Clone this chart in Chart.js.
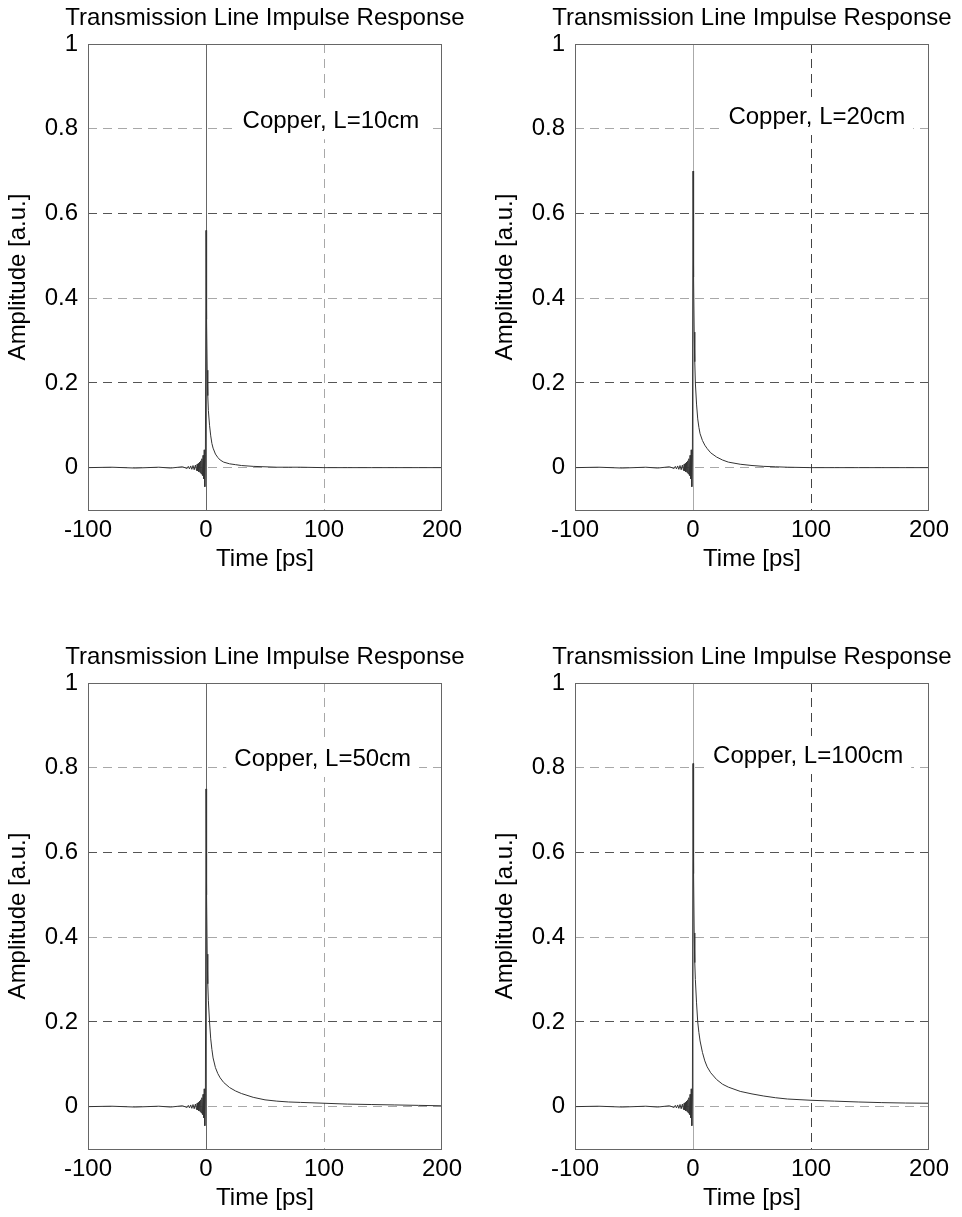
<!DOCTYPE html>
<html>
<head>
<meta charset="utf-8">
<script src="https://cdn.jsdelivr.net/npm/chart.js@4.4.0/dist/chart.umd.min.js"></script>
<style>
  html, body { margin: 0; padding: 0; background: #fff; }
  #page { position: relative; width: 962px; height: 1217px; }
  canvas { position: absolute; }
</style>
</head>
<body>
<div id="page">
  <canvas id="c10" width="475" height="576" style="left:0;top:0"></canvas>
  <canvas id="c20" width="475" height="576" style="left:487px;top:0"></canvas>
  <canvas id="c50" width="475" height="576" style="left:0;top:639px"></canvas>
  <canvas id="c100" width="475" height="576" style="left:487px;top:639px"></canvas>
</div>
<script>
// time axis in ps, shared by all four panels
const timePs = [-100, -80, -60, -40, -30, -20, -16, -15, -14, -13, -12, -11, -10, -9, -8,
  -7.5, -7, -6.5, -6, -5.5, -5, -4.5, -4, -3.5, -3, -2.5, -2, -1.5, -1, -0.5,
  0, 0.5, 1, 1.5, 2, 3, 4, 5, 6, 8, 10, 12, 15, 20, 25, 30, 40, 50, 60, 70, 80,
  100, 120, 140, 160, 180, 200];

// ringing before the main pulse (t = -100 .. -0.5)
const preRinging = [0, 0.001, -0.001, 0.001, -0.001, 0.002, -0.002, 0.003, -0.003, 0.004,
  -0.004, 0.005, -0.005, 0.006, -0.007, 0.008, -0.008, 0.01, -0.01, 0.013, -0.012,
  0.016, -0.015, 0.021, -0.019, 0.029, -0.026, 0.042, -0.045, 0.03];

// pulse and tail (t = 0 .. 200)
const tail10cm = [0.56, 0.35, 0.23, 0.17, 0.135, 0.1, 0.075, 0.057, 0.046, 0.032, 0.024,
  0.018, 0.013, 0.009, 0.007, 0.005, 0.003, 0.002, 0.001, 0.001, 0.001, 0, 0, 0, 0, 0, 0];
const tail20cm = [0.70, 0.45, 0.32, 0.25, 0.2, 0.15, 0.115, 0.095, 0.08, 0.064, 0.053,
  0.045, 0.035, 0.025, 0.018, 0.013, 0.008, 0.005, 0.003, 0.002, 0.001, 0, 0, 0, 0, 0, 0];
const tail50cm = [0.75, 0.5, 0.36, 0.29, 0.25, 0.2, 0.16, 0.135, 0.115, 0.092, 0.078,
  0.068, 0.057, 0.045, 0.037, 0.031, 0.022, 0.016, 0.013, 0.011, 0.01, 0.008, 0.006,
  0.005, 0.004, 0.003, 0.002];
const tail100cm = [0.81, 0.55, 0.41, 0.34, 0.3, 0.245, 0.2, 0.175, 0.155, 0.128, 0.108,
  0.094, 0.08, 0.064, 0.053, 0.046, 0.036, 0.03, 0.025, 0.021, 0.018, 0.015, 0.013,
  0.011, 0.0095, 0.0085, 0.008];

const xTicks = [-100, 0, 100, 200];
const yTicks = [0, 0.2, 0.4, 0.6, 0.8, 1];
const panelTitle = 'Transmission Line Impulse Response';
const panelLabels = ['Copper, L=10cm', 'Copper, L=20cm', 'Copper, L=50cm', 'Copper, L=100cm'];

const FONT = '"Liberation Sans", Arial, Helvetica, sans-serif';

// title, frame round the axes and the text label with a white box
const framePlugin = {
  id: 'frame',
  afterDraw(chart, args, opts) {
    const {ctx, chartArea: a, scales: {x, y}} = chart;
    ctx.save();
    ctx.font = '24px ' + FONT;
    ctx.fillStyle = '#000';
    ctx.textAlign = 'center';
    ctx.textBaseline = 'middle';
    ctx.fillText(panelTitle, (a.left + a.right) / 2, a.top - 26);

    const px = x.getPixelForValue(opts.atX);
    const py = y.getPixelForValue(opts.atY);
    const w = ctx.measureText(opts.text).width;
    ctx.fillStyle = '#fff';
    ctx.fillRect(px - 8, py - 19, w + 16, 38);
    ctx.fillStyle = '#000';
    ctx.textAlign = 'left';
    ctx.fillText(opts.text, px, py + 1);

    ctx.strokeStyle = '#666';
    ctx.lineWidth = 1;
    ctx.strokeRect(Math.round(a.left) + 0.5, Math.round(a.top) + 0.5,
      Math.round(a.width) - 1, Math.round(a.height));
    ctx.restore();
  }
};

function makePanel(id, tail, label, atX, atY, x100Color, zeroColor) {
  const values = preRinging.concat(tail);
  const points = timePs.map((t, i) => ({x: t, y: values[i]}));
  return new Chart(document.getElementById(id), {
    type: 'line',
    data: {
      datasets: [{
        data: points,
        borderColor: '#333',
        borderWidth: 1,
        pointRadius: 0,
        tension: 0,
      }],
    },
    options: {
      responsive: false,
      animation: false,
      layout: {padding: {top: 44, right: 33, left: 0, bottom: 0}},
      plugins: {
        legend: {display: false},
        tooltip: {enabled: false},
        frame: {text: label, atX, atY},
      },
      scales: {
        x: {
          type: 'linear',
          min: -100,
          max: 200,
          afterBuildTicks: (s) => { s.ticks = xTicks.map((v) => ({value: v})); },
          afterFit: (s) => { s.height = 66; },
          ticks: {
            color: '#000',
            padding: 6,
            font: {family: FONT, size: 24},
            callback: (v) => '' + v,
          },
          grid: {
            drawTicks: false,
            color: (c) => (c.tick && c.tick.value === 0 ? zeroColor
              : c.tick && c.tick.value === 100 ? x100Color : 'rgba(0,0,0,0)'),
          },
          border: {display: false, dash: (c) => (c.tick && c.tick.value === 0 ? [] : [9, 6])},
          title: {
            display: true,
            text: 'Time [ps]',
            color: '#000',
            font: {family: FONT, size: 24},
            padding: {top: 0, bottom: 2},
          },
        },
        y: {
          type: 'linear',
          min: -0.1,
          max: 1,
          afterBuildTicks: (s) => { s.ticks = yTicks.map((v) => ({value: v})); },
          afterFit: (s) => { s.width = 88; },
          ticks: {
            color: '#000',
            padding: 10,
            font: {family: FONT, size: 24},
            callback: (v) => '' + v,
          },
          grid: {
            drawTicks: false,
            color: (c) => (c.tick && (c.tick.value === 0.2 || c.tick.value === 0.6) ? '#555' : '#a8a8a8'),
          },
          border: {display: false, dash: [9, 6]},
          title: {
            display: true,
            text: 'Amplitude [a.u.]',
            color: '#000',
            font: {family: FONT, size: 24},
            padding: {top: 4, bottom: 0},
          },
        },
      },
    },
    plugins: [framePlugin],
  });
}

makePanel('c10', tail10cm, panelLabels[0], 31, 0.82, '#a8a8a8', '#666');
makePanel('c20', tail20cm, panelLabels[1], 30, 0.83, '#444', '#aaa');
makePanel('c50', tail50cm, panelLabels[2], 24, 0.823, '#a8a8a8', '#666');
makePanel('c100', tail100cm, panelLabels[3], 17, 0.83, '#444', '#aaa');
</script>
</body>
</html>
